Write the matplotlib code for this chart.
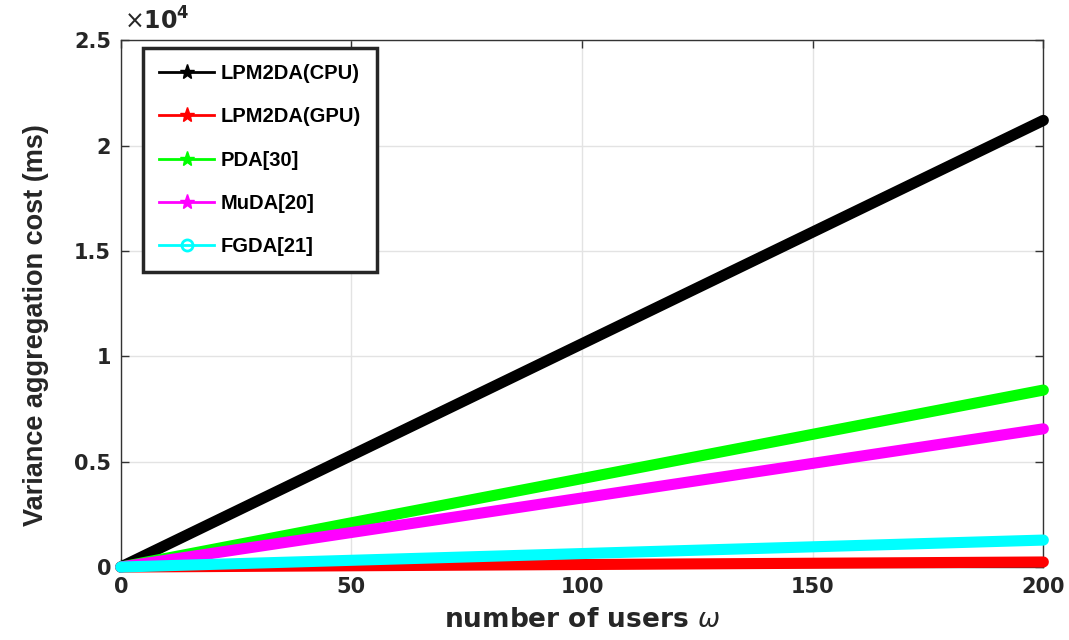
import matplotlib
matplotlib.use("Agg")
import matplotlib.pyplot as plt
from matplotlib.lines import Line2D
from matplotlib.ticker import FuncFormatter

users = [0, 25, 50, 75, 100, 125, 150, 175, 200]
cpu_cost = [0, 2650, 5300, 7950, 10600, 13250, 15900, 18550, 21200]
gpu_cost = [0, 30, 60, 90, 120, 150, 180, 210, 240]
pda_cost = [0, 1050, 2100, 3150, 4200, 5250, 6300, 7350, 8400]
muda_cost = [0, 820, 1640, 2460, 3280, 4100, 4920, 5740, 6560]
fgda_cost = [0, 160, 320, 480, 640, 800, 960, 1120, 1280]

labels = ["LPM2DA(CPU)", "LPM2DA(GPU)", "PDA[30]", "MuDA[20]", "FGDA[21]"]
colors = ["#000000", "#ff0000", "#00ff00", "#ff00ff", "#00ffff"]
markers = ["*", "*", "*", "*", "o"]

plt.rcParams["font.family"] = ["DejaVu Sans"]
txt = "#262626"

fig = plt.figure(figsize=(10.69, 6.4), dpi=100)
ax = fig.add_axes([0.113, 0.114, 0.863, 0.823])

series = [cpu_cost, gpu_cost, pda_cost, muda_cost, fgda_cost]
for vals, c in zip(series, colors):
    # the dense markers of the original merge into a thick band
    ax.plot(users, vals, color=c, lw=8, solid_capstyle="round", zorder=3,
            clip_on=False)

ax.set_xlim(0, 200)
ax.set_ylim(0, 25000)
ax.set_xticks([0, 50, 100, 150, 200])
ax.set_yticks([0, 5000, 10000, 15000, 20000, 25000])
ax.yaxis.set_major_formatter(FuncFormatter(lambda v, p: "%g" % (v / 1e4)))
ax.grid(True, color="#e3e3e3", lw=1)
ax.set_axisbelow(True)
ax.tick_params(direction="in", top=True, right=True, length=6, width=1,
               labelsize=15, color="#333333", labelcolor=txt, pad=7)
for lab in ax.get_xticklabels() + ax.get_yticklabels():
    lab.set_fontweight("bold")
for s in ax.spines.values():
    s.set_color("#333333")
    s.set_linewidth(1)

ax.text(0.003, 1.01, r"$\times\mathbf{10}^{\mathbf{4}}$", transform=ax.transAxes,
        fontsize=17, color=txt, va="bottom", ha="left")

ax.set_xlabel("number of users $\\omega$", fontsize=19, fontweight="bold",
              color=txt)
ax.xaxis.set_label_coords(0.5, -0.075)
ax.xaxis.label.set_va("top")
ax.set_ylabel("Variance aggregation cost (ms)", fontsize=19.5,
              family=["Liberation Sans", "DejaVu Sans"],
              fontweight="bold", color=txt)
ax.yaxis.set_label_coords(-0.078, 0.46)

handles = []
for c, m in zip(colors, markers):
    if m == "o":
        h = Line2D([], [], color=c, lw=2, marker="o", markersize=8,
                   markerfacecolor="none", markeredgewidth=2)
    else:
        h = Line2D([], [], color=c, lw=2, marker="*", markersize=11)
    handles.append(h)
leg = ax.legend(handles, labels, loc="upper left", bbox_to_anchor=(0.024, 0.985),
                borderaxespad=0, fancybox=False, framealpha=1, handlelength=2.75,
                labelspacing=1.2, borderpad=0.8, handletextpad=0.3,
                prop={"family": "Liberation Sans", "weight": "bold", "size": 14.5})
leg.get_frame().set_edgecolor(txt)
leg.get_frame().set_linewidth(2.5)

fig.savefig("out.png", dpi=100)
